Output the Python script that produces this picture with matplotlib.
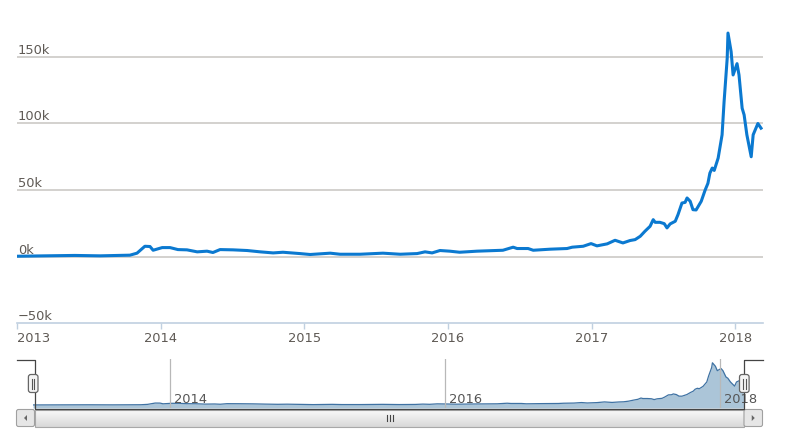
import numpy as np
import pandas as pd
import matplotlib
matplotlib.use('Agg')
import matplotlib.pyplot as plt
import matplotlib.transforms as mtransforms
from matplotlib.patches import FancyBboxPatch, Rectangle, Polygon


dates = ['2013-01-01', '2013-03-13', '2013-05-28', '2013-07-31', '2013-10-15',
         '2013-11-02', '2013-11-22', '2013-12-05', '2013-12-13', '2014-01-05',
         '2014-01-25', '2014-02-14', '2014-03-09', '2014-04-04', '2014-04-29',
         '2014-05-14', '2014-06-01', '2014-07-04', '2014-08-09', '2014-09-11',
         '2014-10-14', '2014-11-08', '2014-12-21', '2015-01-16', '2015-03-08',
         '2015-04-02', '2015-05-23', '2015-07-20', '2015-09-02', '2015-10-15',
         '2015-11-04', '2015-11-22', '2015-12-12', '2016-01-06', '2016-01-31',
         '2016-03-15', '2016-05-20', '2016-06-15', '2016-06-25', '2016-07-23',
         '2016-08-05', '2016-09-17', '2016-10-30', '2016-11-12', '2016-12-10',
         '2016-12-30', '2017-01-14', '2017-02-09', '2017-03-01', '2017-03-21',
         '2017-04-08', '2017-04-21', '2017-05-04', '2017-05-16', '2017-05-29',
         '2017-06-06', '2017-06-11', '2017-06-23', '2017-07-04', '2017-07-11',
         '2017-07-19', '2017-08-01', '2017-08-08', '2017-08-18', '2017-08-26',
         '2017-08-31', '2017-09-08', '2017-09-15', '2017-09-23', '2017-10-06',
         '2017-10-16', '2017-10-23', '2017-10-28', '2017-11-03', '2017-11-08',
         '2017-11-18', '2017-11-28', '2017-12-03', '2017-12-11', '2017-12-13',
         '2017-12-21', '2017-12-26', '2018-01-05', '2018-01-10', '2018-01-18',
         '2018-01-23', '2018-01-30', '2018-02-10', '2018-02-15', '2018-02-27',
         '2018-03-07']

prices = [200, 500, 800, 500, 1000,
          2500, 7700, 7500, 4700, 6700,
          6700, 5200, 5000, 3500, 4000,
          3000, 5200, 5000, 4500, 3500,
          2700, 3200, 2200, 1500, 2500,
          1700, 1700, 2500, 1700, 2200,
          3500, 2700, 4500, 4000, 3200,
          4000, 4700, 7000, 6000, 6000,
          4700, 5500, 6000, 7000, 7700,
          9700, 8000, 9500, 12200, 10200,
          12000, 12700, 15200, 19000, 22700,
          27700, 25700, 25700, 24700, 21500,
          24500, 26500, 31500, 40200, 40700,
          44000, 41500, 35200, 35000, 41500,
          50000, 55000, 62700, 66500, 64700,
          74000, 91500, 116000, 149000, 168000,
          154000, 136500, 145000, 136500, 111500,
          106500, 91500, 75000, 91500, 100000,
          96500]

year_labels = ['2013', '2014', '2015', '2016', '2017', '2018']
y_ticks = [-50000, 0, 50000, 100000, 150000]
y_tick_labels = ['\u221250k', '0k', '50k', '100k', '150k']
nav_labels = ['2014', '2016', '2018']

W, H = 790, 438
FS = 9.36
TEXT = '#5f5a55'
LINE = '#0b79d0'
GRID = '#c8c5c1'
AXIS = '#c0d0e0'


def px_box(left, top, right, bottom):
    return [left / W, 1 - bottom / H, (right - left) / W, (bottom - top) / H]


def draw_main(fig, x, y):
    ax = fig.add_axes(px_box(17, 10.45, 763, 323))
    ax.set_xlim(pd.Timestamp('2013-01-01'), pd.Timestamp('2018-03-12'))
    ax.set_ylim(-50000, 185000)
    for s in ['top', 'left', 'right']:
        ax.spines[s].set_visible(False)
    ax.spines['bottom'].set_color(AXIS)
    ax.spines['bottom'].set_linewidth(1.2)

    for v in y_ticks[1:]:
        ax.axhline(v, color=GRID, lw=1.1, zorder=1)
    ax.set_yticks([])

    trans = mtransforms.blended_transform_factory(ax.transAxes, ax.transData)
    trans = mtransforms.offset_copy(trans, fig=fig, x=1, y=3, units='dots')
    for v, lbl in zip(y_ticks, y_tick_labels):
        ax.text(0, v, lbl, transform=trans, ha='left', va='baseline',
                fontsize=FS, color=TEXT)

    ax.plot(x, y, color=LINE, lw=2.2, zorder=3, solid_joinstyle='round')

    ax.set_xticks([pd.Timestamp(f'{yr}-01-01') for yr in year_labels])
    ax.set_xticklabels(year_labels)
    ax.tick_params(axis='x', direction='out', length=4.5, width=1, color=AXIS,
                   labelsize=FS, labelcolor=TEXT, pad=2.2)
    ax.get_xticklabels()[0].set_ha('left')
    ax.patch.set_alpha(0)
    return ax


def draw_navigator(fig, x, y):
    ax = fig.add_axes(px_box(33, 359, 744, 408))
    ax.set_xlim(x[0], x[-1])
    ax.set_ylim(-12000, 183000)
    ax.axis('off')
    ax.fill_between(x, y, -12000, color='#abc5d8', lw=0, zorder=1)
    ax.plot(x, y, color='#3f72a3', lw=0.9, zorder=2)

    trans = mtransforms.blended_transform_factory(ax.transData, ax.transAxes)
    lbl_trans = mtransforms.offset_copy(trans, fig=fig, x=4, y=5, units='dots')
    for lbl in nav_labels:
        d = pd.Timestamp(f'{lbl}-01-01')
        ax.plot([d, d], [0, 1], transform=trans, color='#b8b8b8', lw=0.9, zorder=3)
        ax.text(d, 0, lbl, transform=lbl_trans, ha='left', va='baseline',
                fontsize=FS, color='#555555', zorder=4)
    return ax


def draw_button(ov, left, right, pointing):
    ov.add_patch(FancyBboxPatch((left, 409.5), right - left, 17,
                                boxstyle='round,pad=0,rounding_size=2',
                                fc='#e6e6e6', ec='#a0a0a0', lw=0.8, zorder=3))
    cx, cy = (left + right) / 2, 418
    if pointing == 'left':
        tri = [(cx + 1.5, cy - 3), (cx + 1.5, cy + 3), (cx - 1.5, cy)]
    else:
        tri = [(cx - 1.5, cy - 3), (cx - 1.5, cy + 3), (cx + 1.5, cy)]
    ov.add_patch(Polygon(tri, closed=True, fc='#666666', ec='none', zorder=4))


def draw_handle(ov, cx):
    ov.add_patch(FancyBboxPatch((cx - 4.8, 374.5), 9.6, 18,
                                boxstyle='round,pad=0,rounding_size=2.5',
                                fc='#f4f4f4', ec='#666666', lw=0.9, zorder=6))
    for dx in (-1.2, 1.2):
        ov.plot([cx + dx, cx + dx], [378.5, 388.5], color='#555555', lw=0.8, zorder=7)


def draw_overlay(fig):
    ov = fig.add_axes([0, 0, 1, 1])
    ov.set_xlim(0, W)
    ov.set_ylim(H, 0)
    ov.axis('off')
    ov.patch.set_alpha(0)

    # scrollbar thumb with a soft vertical gradient
    grad = np.linspace(0, 1, 32).reshape(-1, 1)
    cmap = matplotlib.colors.LinearSegmentedColormap.from_list('g', ['#fbfbfb', '#d8d8d8'])
    ov.imshow(grad, cmap=cmap, extent=(34.5, 744, 427, 409.5), aspect='auto',
              zorder=2, interpolation='bilinear')
    ov.add_patch(Rectangle((34.5, 409.5), 709.5, 17.5, fc='none', ec='#a8a8a8',
                           lw=0.8, zorder=3))
    for gx in (386.5, 389.5, 392.5):
        ov.plot([gx, gx], [415, 421], color='#444444', lw=0.8, zorder=4)

    draw_button(ov, 16.5, 34.5, 'left')
    draw_button(ov, 744, 762.5, 'right')

    # navigator outline
    ov.plot([17, 34.5, 34.5, 744, 744, 762.5],
            [359.5, 359.5, 409, 409, 359.5, 359.5],
            color='#444444', lw=0.9, zorder=5)
    draw_handle(ov, 33.2)
    draw_handle(ov, 744.3)
    ov.set_xlim(0, W)
    ov.set_ylim(H, 0)


x = pd.to_datetime(dates)
y = np.array(prices)

fig = plt.figure(figsize=(W / 100, H / 100), dpi=100)
draw_main(fig, x, y)
draw_navigator(fig, x, y)
draw_overlay(fig)
fig.savefig('out.png', dpi=100)
